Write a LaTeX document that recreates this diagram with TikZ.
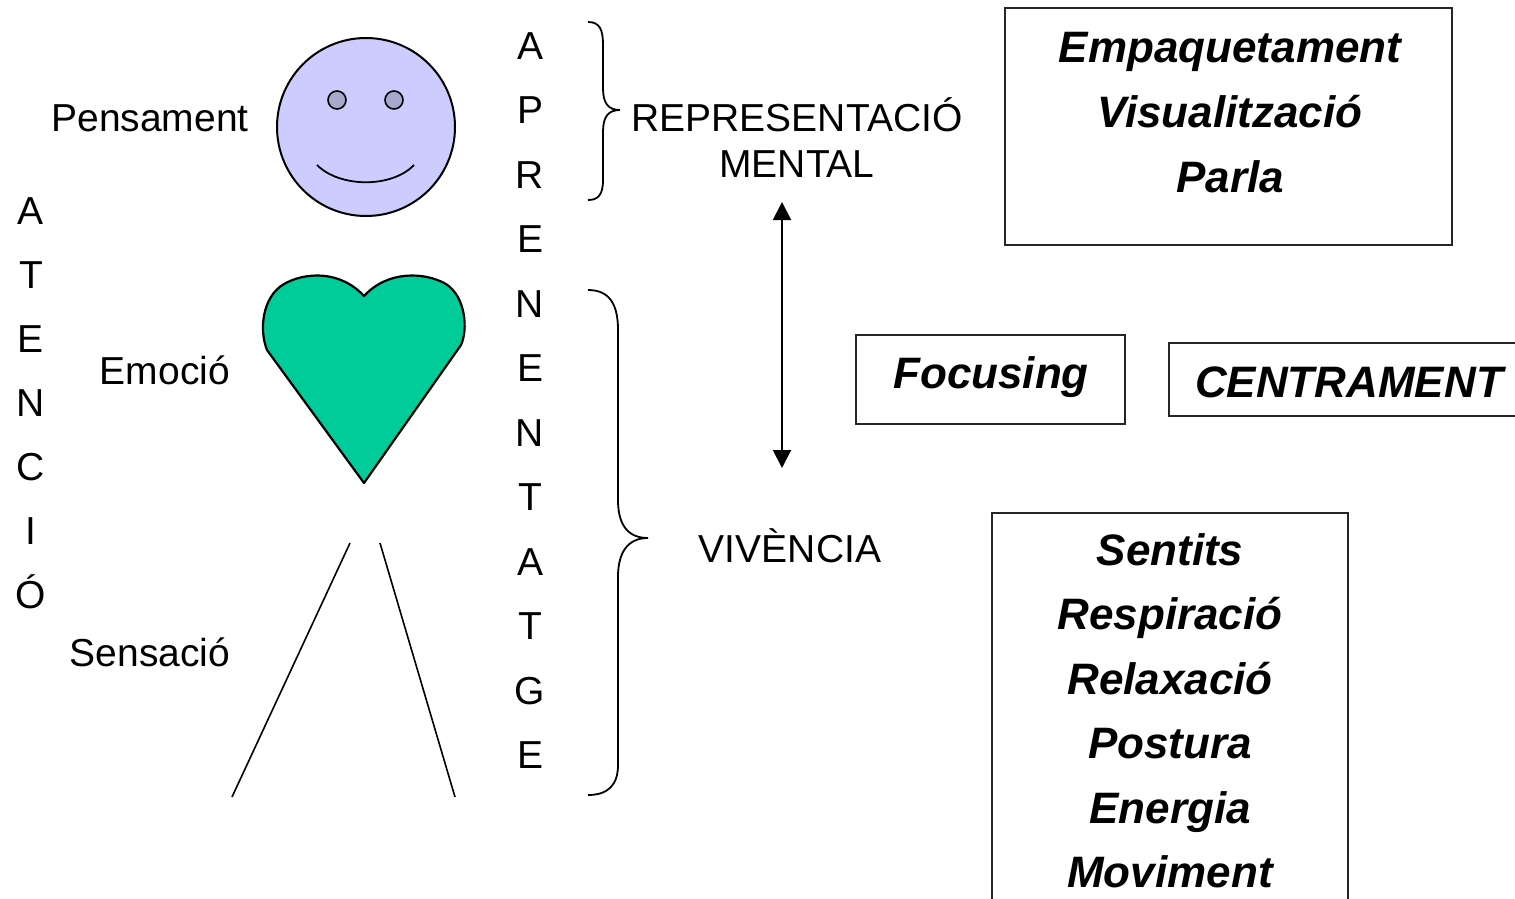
\documentclass[tikz,border=0pt]{standalone}
\usepackage{fontspec}
\setmainfont{Liberation Sans}
\usetikzlibrary{arrows.meta}
\definecolor{faceblue}{HTML}{CCCCFF}
\definecolor{eyeblue}{HTML}{A8A8CC}
\definecolor{heartgreen}{HTML}{00CC99}
\begin{document}
\begin{tikzpicture}[x=1pt,y=-1pt,
  plain/.style={font=\fontsize{39}{47}\selectfont, anchor=base, inner sep=0pt},
  bold/.style={font=\fontsize{44}{53}\selectfont\bfseries\itshape, anchor=base, inner sep=0pt},
  framebox/.style={draw=black!85, line width=1.5pt, inner sep=0pt},
  outline/.style={draw=black, line width=2pt},
  bracestyle/.style={draw=black, line width=1.8pt},
  legline/.style={draw=black, line width=1.6pt}]
\useasboundingbox (0,0) rectangle (1515,898);

% head
\node[outline, fill=faceblue, circle, minimum size=178pt, inner sep=0pt] (head) at (366,127) {};
\node[draw=black, line width=1.6pt, fill=eyeblue, circle, minimum size=18pt, inner sep=0pt] (eyeL) at (337,100) {};
\node[draw=black, line width=1.6pt, fill=eyeblue, circle, minimum size=18pt, inner sep=0pt] (eyeR) at (394,100) {};
\draw[line width=1.8pt] (317,165) .. controls (340,188) and (392,188) .. (414,165);

% heart
\draw[outline, line width=2.2pt, fill=heartgreen, line join=round]
  (364,483) -- (267,350) .. controls (259,330) and (262,297) .. (284,284)
  .. controls (305,272) and (340,270) .. (364,296)
  .. controls (388,270) and (425,272) .. (446,284)
  .. controls (466,297) and (468,330) .. (461,345) -- cycle;

% legs
\coordinate (legLtop) at (350,543);
\coordinate (legLbot) at (232,797);
\coordinate (legRtop) at (380,543);
\coordinate (legRbot) at (455,797);
\draw[legline] (legLtop) -- (legLbot);
\draw[legline] (legRtop) -- (legRbot);

% labels beside the figure
\node[plain] (pens) at (150,131) {Pensament};
\node[plain] (emo) at (165,384) {Emoció};
\node[plain] (sens) at (150,666) {Sensació};

% vertical word ATENCIÓ
\foreach \ch [count=\i from 0] in {A,T,E,N,C,I,Ó}
  \node[plain] (aten\i) at (31,224+64*\i) {\ch};

% vertical word APRENENTATGE
\foreach \ch [count=\i from 0] in {A,P,R,E,N,E,N,T,A,T,G,E}
  \node[plain] (apr\i) at (530,59+64.5*\i) {\ch};

% braces
\draw[bracestyle] (588,22) .. controls (600,22) and (603,30) .. (603,45) -- (603,88)
  .. controls (603,103) and (608,110) .. (620,110)
  .. controls (608,110) and (603,117) .. (603,132) -- (603,180)
  .. controls (603,195) and (598,200) .. (588,200);
\draw[bracestyle] (588,290) .. controls (610,290) and (618,305) .. (618,330) -- (618,500)
  .. controls (618,525) and (628,538) .. (648,538)
  .. controls (628,538) and (618,552) .. (618,577) -- (618,765)
  .. controls (618,785) and (608,795) .. (588,795);

% middle column
\node[plain] (repr) at (797,131) {REPRESENTACIÓ};
\node[plain] (ment) at (797,177) {MENTAL};
\node[plain] (viv) at (790,562) {VIVÈNCIA};
\coordinate (arrtop) at (782,202);
\coordinate (arrbot) at (782,468);
\draw[line width=2pt, {Triangle[width=18pt,length=18pt]}-{Triangle[width=18pt,length=18pt]}] (arrtop) -- (arrbot);

% boxes
\node[framebox, minimum width=447pt, minimum height=237pt] (boxtop) at (1228.5,126.5) {};
\node[bold] (t1) at (1230,62) {Empaquetament};
\node[bold] (t2) at (1230,127) {Visualització};
\node[bold] (t3) at (1230,192) {Parla};

\node[framebox, minimum width=269pt, minimum height=89pt] (boxfoc) at (990.5,379.5) {};
\node[bold] (foc) at (991,388) {Focusing};

\node[framebox, minimum width=361pt, minimum height=73pt] (boxcen) at (1349.5,379.5) {};
\node[bold] (cen) at (1349,397) {CENTRAMENT};

\node[framebox, minimum width=356pt, minimum height=407pt] (boxbot) at (1170,716.5) {};
\foreach \w [count=\i from 0] in {Sentits,Respiració,Relaxació,Postura,Energia,Moviment}
  \node[bold] (b\i) at (1170,565+64.5*\i) {\w};
\end{tikzpicture}
\end{document}
